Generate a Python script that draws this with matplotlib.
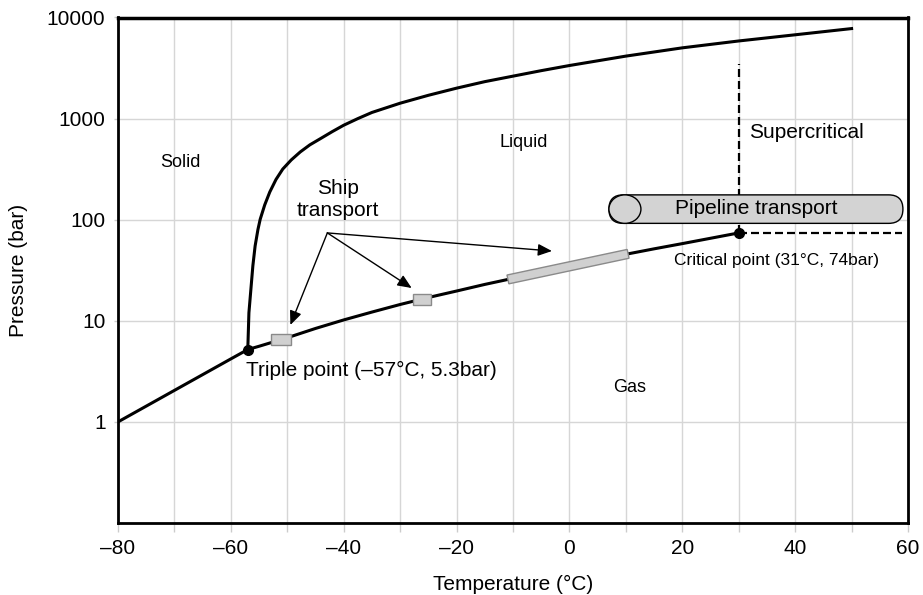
#CO2 phase diagram with transport regions
import numpy as np
import matplotlib
matplotlib.use('Agg')
import matplotlib.pyplot as plt
from matplotlib.patches import Rectangle, Polygon, FancyBboxPatch, Ellipse
from matplotlib.transforms import IdentityTransform
from matplotlib.ticker import NullLocator

plt.rcParams['font.family'] = ['Liberation Sans', 'DejaVu Sans']

# phase boundaries
subl_T = [-80, -70, -60, -57]
subl_p = [1.0, 2.05, 4.2, 5.2]

vap_T = [-57, -55, -50, -45, -40, -35, -30, -25, -20, -15, -10, -5, 0, 5, 10, 15, 20, 25, 30]
vap_p = [5.2, 5.6, 6.8, 8.4, 10.2, 12.2, 14.5, 17.0, 19.7, 22.9, 26.3, 30.4, 35.0,
         40.0, 45.5, 51.5, 58.0, 65.5, 74.0]

melt_T = [-57, -56.8, -56.5, -56.1, -55.7, -55.2, -54.8, -54.0, -53.1, -52.0, -50.8,
          -49.3, -47.7, -46.0, -44.2, -42.0, -40.0, -37.5, -35.0, -30.0, -25.0,
          -20.0, -15.0, -10.0, -5.0, 0, 10, 20, 30, 40, 50]
melt_p = [5.2, 12, 19, 35, 55, 80, 101, 140, 188, 250, 317,
          390, 468, 550, 630, 745, 860, 1000, 1150, 1420, 1700,
          2000, 2320, 2630, 2980, 3350, 4150, 5010, 5860, 6745, 7770]

triple = (-57, 5.2)
critical = (30, 74)
super_top = 3500      # top of the dashed vertical line
dash_right = 58.9     # end of the dashed horizontal line

# transport regions
ship_boxes = [(-52.8, -49.4), (-27.8, -24.6)]
ship_bar = (-10.9, 10.4)
pipe_T = (7.0, 59.1)
pipe_p = (92, 176)

arrow_from = (-42.9, 74)
arrow_to = [(-49.45, 9.1), (-27.96, 21.1), (-3.1, 49)]

xticks = np.arange(-80, 61, 10)
yticks = [1, 10, 100, 1000, 10000]

fig = plt.figure(figsize=(9.23, 5.95), dpi=100)
ax = fig.add_axes([118/923, 72/595, 790/923, 505.5/595])
ax.set_yscale('log')
ax.set_xlim(-80, 60)
ax.set_ylim(0.1, 10000)

ax.set_xticks(xticks, labels=[str(t).replace('-', '\u2013') if t % 20 == 0 else '' for t in xticks])
ax.set_yticks(yticks, labels=[str(v) for v in yticks])
ax.yaxis.set_minor_locator(NullLocator())
ax.tick_params(axis='x', length=6.5, width=1, color='#cccccc', pad=5, labelsize=15)
ax.tick_params(axis='y', length=3, width=1, color='#cccccc', pad=6, labelsize=15)
ax.grid(True, color='#d6d6d6', lw=1)
ax.set_axisbelow(True)
for s in ax.spines.values():
    s.set_linewidth(2)
    s.set_color('k')
ax.spines['top'].set_linewidth(2.5)

ax.set_xlabel('Temperature (°C)', fontsize=15)
ax.set_ylabel('Pressure (bar)', fontsize=15)
ax.xaxis.set_label_coords(0.5, -0.102)
ax.yaxis.set_label_coords(-0.114, 0.5)

# curves
ax.plot(subl_T, subl_p, color='k', lw=2.2, zorder=3)
ax.plot(vap_T, vap_p, color='k', lw=2.2, zorder=3)
ax.plot(melt_T, melt_p, color='k', lw=2.2, zorder=3)
ax.plot([critical[0], critical[0]], [critical[1], super_top], color='k', lw=1.6,
        ls=(0, (3.6, 1.8)), zorder=2)
ax.plot([critical[0], dash_right], [critical[1], critical[1]], color='k', lw=1.6,
        ls=(0, (3.6, 1.8)), zorder=2)
ax.plot(*zip(triple, critical), 'o', color='k', ms=7, ls='none', zorder=6)

def vap_at(t):
    return np.exp(np.interp(t, vap_T, np.log(vap_p)))

def to_px(x, y):
    return ax.transData.transform((x, y))

def to_data(pts):
    return ax.transData.inverted().transform(pts)

# ship transport boxes
for t0, t1 in ship_boxes:
    pc = vap_at((t0 + t1) / 2)
    cx, cy = to_px((t0 + t1) / 2, pc)
    lo = to_data((cx, cy - 5.5))[1]
    hi = to_data((cx, cy + 5.5))[1]
    ax.add_patch(Rectangle((t0, lo), t1 - t0, hi - lo, facecolor='#d0d0d0',
                           edgecolor='#8a8a8a', lw=1, zorder=4))

p1 = to_px(ship_bar[0], vap_at(ship_bar[0]))
p2 = to_px(ship_bar[1], vap_at(ship_bar[1]))
d = (p2 - p1) / np.hypot(*(p2 - p1))
n = np.array([-d[1], d[0]]) * 4.5
bar = to_data(np.array([p1 + n, p2 + n, p2 - n, p1 - n]))
ax.add_patch(Polygon(bar, closed=True, facecolor='#d0d0d0', edgecolor='#8a8a8a',
                     lw=1, zorder=4))

# pipeline cylinder
x0, y0 = to_px(pipe_T[0], pipe_p[0])
x1, y1 = to_px(pipe_T[1], pipe_p[1])
h = y1 - y0
ax.add_patch(FancyBboxPatch((x0, y0), x1 - x0, h,
                            boxstyle=f'round,pad=0,rounding_size={h/2}',
                            transform=IdentityTransform(), facecolor='#d3d3d3',
                            edgecolor='k', lw=1, zorder=4))
ax.add_patch(Ellipse((x0 + 16, y0 + h / 2), 32, h, transform=IdentityTransform(),
                     facecolor='#d3d3d3', edgecolor='k', lw=1, zorder=5))

# arrows
for tip in arrow_to:
    ax.annotate('', xy=tip, xytext=arrow_from,
                arrowprops=dict(arrowstyle='-|>,head_length=0.65,head_width=0.28',
                                color='k', lw=1, shrinkA=0, shrinkB=0,
                                mutation_scale=13), zorder=5)

# labels
ax.text(-68.9, 372, 'Solid', fontsize=13, ha='center', va='center')
ax.text(-8.1, 575, 'Liquid', fontsize=13, ha='center', va='center')
ax.text(10.6, 2.19, 'Gas', fontsize=13, ha='center', va='center')
ax.text(31.8, 721, 'Supercritical', fontsize=15, ha='left', va='center')
ax.text(33.1, 128, 'Pipeline transport', fontsize=15, ha='center', va='center', zorder=6)
ax.text(18.6, 39.3, 'Critical point (31°C, 74bar)', fontsize=12.5, ha='left', va='center')
ax.text(-57.4, 3.2, 'Triple point (\u201357°C, 5.3bar)', fontsize=15, ha='left', va='center')
ax.text(-41.1, 158, 'Ship\ntransport', fontsize=15, ha='center', va='center',
        linespacing=1.2)

fig.savefig('out.png', dpi=100)
